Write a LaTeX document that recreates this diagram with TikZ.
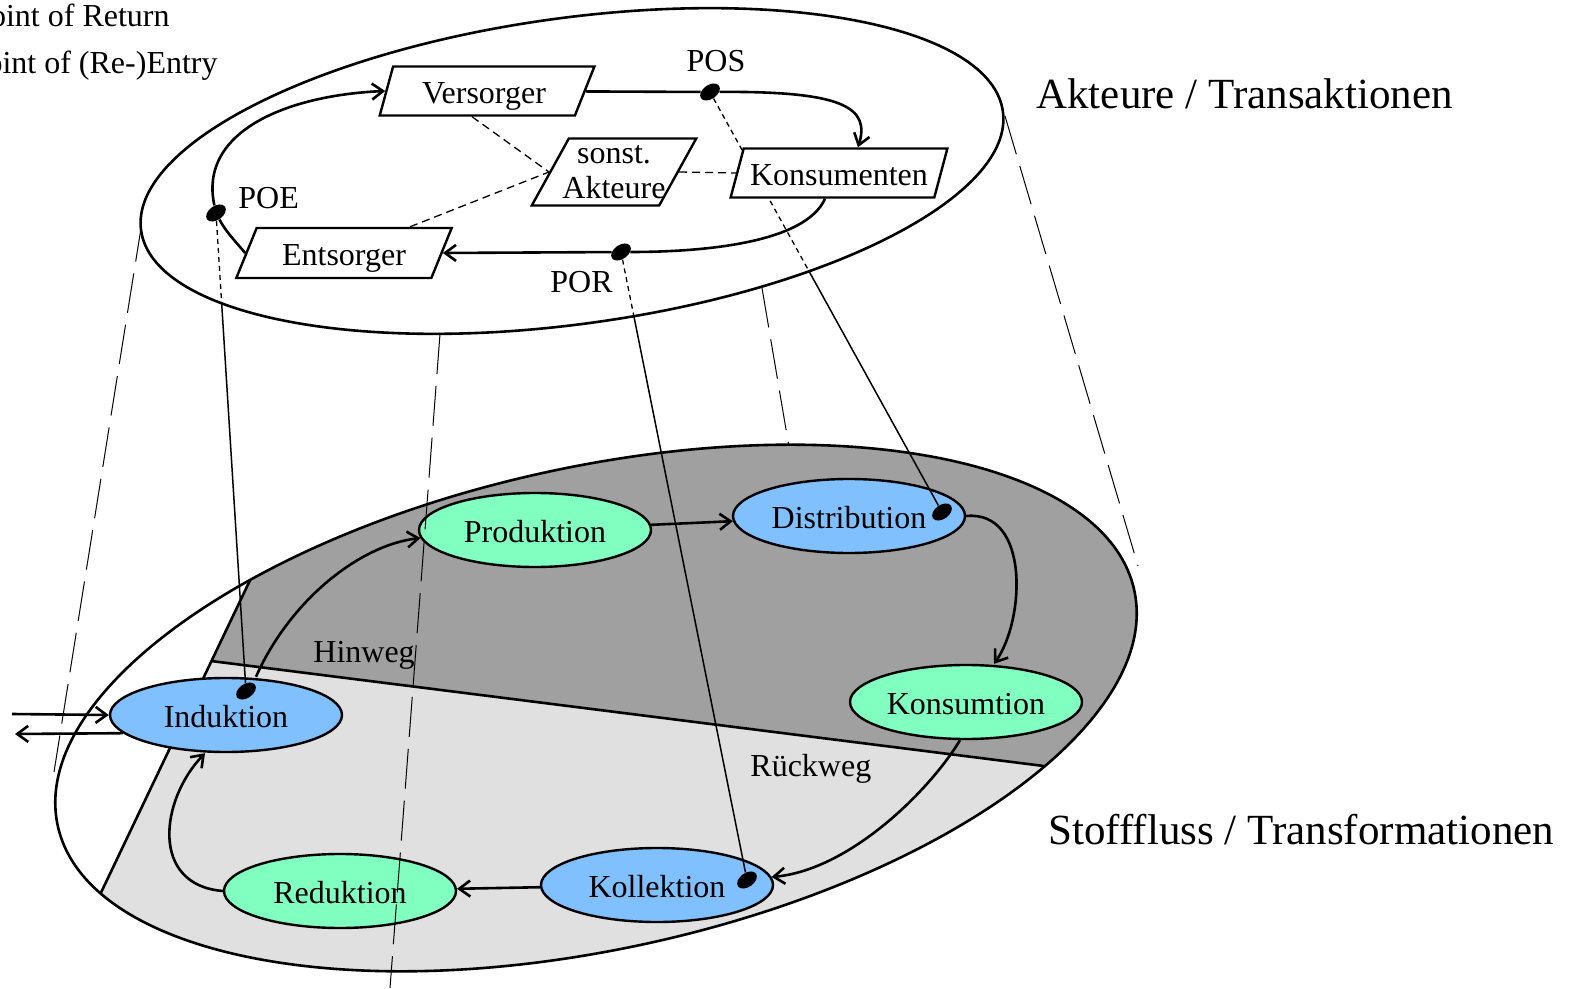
\documentclass[tikz,border=0pt]{standalone}
\usepackage{fontspec}
\setmainfont{Liberation Serif}
\usetikzlibrary{shapes.geometric,arrows.meta}
\definecolor{ovblue}{RGB}{128,192,255}
\definecolor{ovgreen}{RGB}{128,255,192}
\definecolor{shadedark}{RGB}{160,160,160}
\definecolor{shadelight}{RGB}{224,224,224}
\pgfdeclarelayer{back}
\pgfdeclarelayer{links}
\pgfdeclarelayer{topfill}
\pgfsetlayers{back,links,topfill,main}
\begin{document}
\begin{tikzpicture}[x=0.5pt,y=-0.5pt,
  txt/.style={font=\fontsize{16}{17.5}\selectfont, inner sep=0pt},
  bigtxt/.style={font=\fontsize{21.5}{25}\selectfont, inner sep=0pt},
  heavy/.style={line width=1.3pt},
  flow/.style={heavy, -{Straight Barb[length=5.5pt,width=8pt]}},
  oval/.style={ellipse, draw, line width=1.2pt, minimum width=116pt, minimum height=37pt, inner sep=0pt, text height=12.5pt, text depth=0pt, font=\fontsize{16}{17.5}\selectfont},
  actor/.style={trapezium, draw, fill=white, line width=1.2pt, trapezium stretches=true, inner sep=0pt, align=center, font=\fontsize{16}{17.5}\selectfont},
  oneline/.style={text height=12.5pt, text depth=0pt},
  blob/.style={ellipse, fill=black, minimum width=11pt, minimum height=7pt, inner sep=0pt, rotate=35},
  proj/.style={line width=0.5pt, dash pattern=on 20pt off 6pt},
  rel/.style={line width=0.65pt, dash pattern=on 4pt off 2.5pt},
  hid/.style={line width=0.65pt, dash pattern=on 2.5pt off 2pt},
  link/.style={line width=0.75pt},
  topell/.style={rotate around={7.86:(572,171)}},
  botell/.style={rotate around={12.35:(596,708)}}
]
\useasboundingbox (0,0) rectangle (1573,989);

% ---------- top dots (main layer) ----------
\node[blob] (pos) at (710,92) {};
\node[blob] (poe) at (216,213) {};
\node[blob] (por) at (621,252) {};

% ---------- bottom plane ----------
\begin{pgfonlayer}{back}
\draw[proj] (142,222) -- (54,772);
\draw[proj] (1005,116) -- (1138,566);
\draw[proj] (762,288) -- (789,447);
\begin{scope}
  \clip[botell] (596,708) ellipse [x radius=551, y radius=241];
  \fill[shadelight] (211,661) -- (45,1010) -- (1250,1010) -- (1250,792) -- cycle;
  \fill[shadedark] (336,400) -- (211,661) -- (1250,792) -- (1250,380) -- cycle;
  \draw[heavy] (336,400) -- (45,1010);
  \draw[heavy] (211,661) -- (1250,792);
\end{scope}
\draw[heavy, botell] (596,708) ellipse [x radius=551, y radius=241];

\node[oval, fill=ovblue] (ind) at (226,715) {Induktion};
\node[oval, fill=ovgreen] (prod) at (535,530) {Produktion};
\node[oval, fill=ovblue] (dist) at (849,516) {Distribution};
\node[oval, fill=ovgreen] (kmt) at (966,702) {Konsumtion};
\node[oval, fill=ovblue] (koll) at (657,885) {Kollektion};
\node[oval, fill=ovgreen] (red) at (340,891) {Reduktion};

\node[blob] (inddot) at (246,691) {};
\node[blob] (distdot) at (942,512) {};
\node[blob] (kolldot) at (747,880) {};

\draw[flow] ([xshift=15pt]ind.north) .. controls (290,600) and (360,545) .. (prod.184);
\draw[flow] (prod) -- (dist);
\draw[flow] (dist.east) .. controls (1030,510) and (1025,620) .. ([xshift=14pt]kmt.north);
\draw[flow] ([xshift=-3pt]kmt.south) .. controls (930,790) and (850,870) .. (koll.4);
\draw[flow] (koll) -- (red);
\draw[flow] (red.west) .. controls (150,885) and (160,800) .. ([xshift=-10.5pt]ind.south);

\coordinate (extin) at (12,714);
\coordinate (extout) at (15,734);
\draw[flow] (extin) -- (ind.west);
\draw[flow] (ind.190) -- (extout);
\end{pgfonlayer}

% ---------- links between planes ----------
\begin{pgfonlayer}{links}
\draw[link] (poe) -- (inddot);
\draw[link] (pos) -- (distdot);
\draw[link] (por) -- (kolldot);
\end{pgfonlayer}

% ---------- top plane ----------
\begin{pgfonlayer}{topfill}
\draw[heavy, fill=white, topell] (572,171) ellipse [x radius=435, y radius=153];
\end{pgfonlayer}

\begin{scope}
  \clip[topell] (572,171) ellipse [x radius=435, y radius=153];
  \draw[hid] (poe) -- (inddot);
  \draw[hid] (pos) -- (distdot);
  \draw[hid] (por) -- (kolldot);
\end{scope}

\node[actor, oneline, trapezium left angle=70, trapezium right angle=118, minimum width=108pt, minimum height=24.5pt] (vers) at (484,91) {Versorger};
\node[actor, trapezium left angle=60, trapezium right angle=120, minimum width=82.5pt, minimum height=33.5pt, inner xsep=-7pt] (sonst) at (614,172) {sonst.\\Akteure};
\node[actor, oneline, trapezium left angle=65, trapezium right angle=115, minimum width=109pt, minimum height=24.5pt, inner xsep=-2pt] (kons) at (839,173) {Konsumenten};
\node[actor, oneline, trapezium left angle=60, trapezium right angle=120, minimum width=108.5pt, minimum height=25pt] (ents) at (344,253) {Entsorger};

\draw[heavy] (vers) -- (pos);
\draw[flow] (pos) .. controls (845,91) and (870,108) .. ([xshift=9.5pt]kons.north);
\draw[heavy] ([xshift=-7pt]kons.south) .. controls +(-20,45) and +(80,0) .. (por);
\draw[flow] (por) -- (ents.east);
\draw[heavy] (ents.west) .. controls (236,242) and (226,232) .. (poe);
\draw[flow] (poe) .. controls (198,130) and (290,95) .. (vers.west);

\draw[rel] ([xshift=-6pt]vers.south) -- (sonst.west);
\draw[rel] ([xshift=33pt]ents.north) -- (sonst.west);
\draw[rel] (sonst.east) -- (kons.west);

\node[txt, anchor=base] (poslbl) at (716,72) {POS};
\node[txt, anchor=base west] (poelbl) at (238,209) {POE};
\node[txt, anchor=base west] (porlbl) at (550,293) {POR};

% ---------- labels ----------
\node[txt, anchor=base east] (ret) at (170,27) {Point of Return};
\node[txt, anchor=base east] (entry) at (218,74) {Point of (Re-)Entry};
\node[bigtxt, anchor=base west] (akt) at (1036,109) {Akteure / Transaktionen};
\node[bigtxt, anchor=base west] (stoff) at (1048,844) {Stofffluss / Transformationen};
\node[txt, anchor=base west] (hin) at (313,662) {Hinweg};
\node[txt, anchor=base west] (rueck) at (750,776) {Rückweg};

\draw[proj] (440,334) -- (390,988);
\end{tikzpicture}
\end{document}
